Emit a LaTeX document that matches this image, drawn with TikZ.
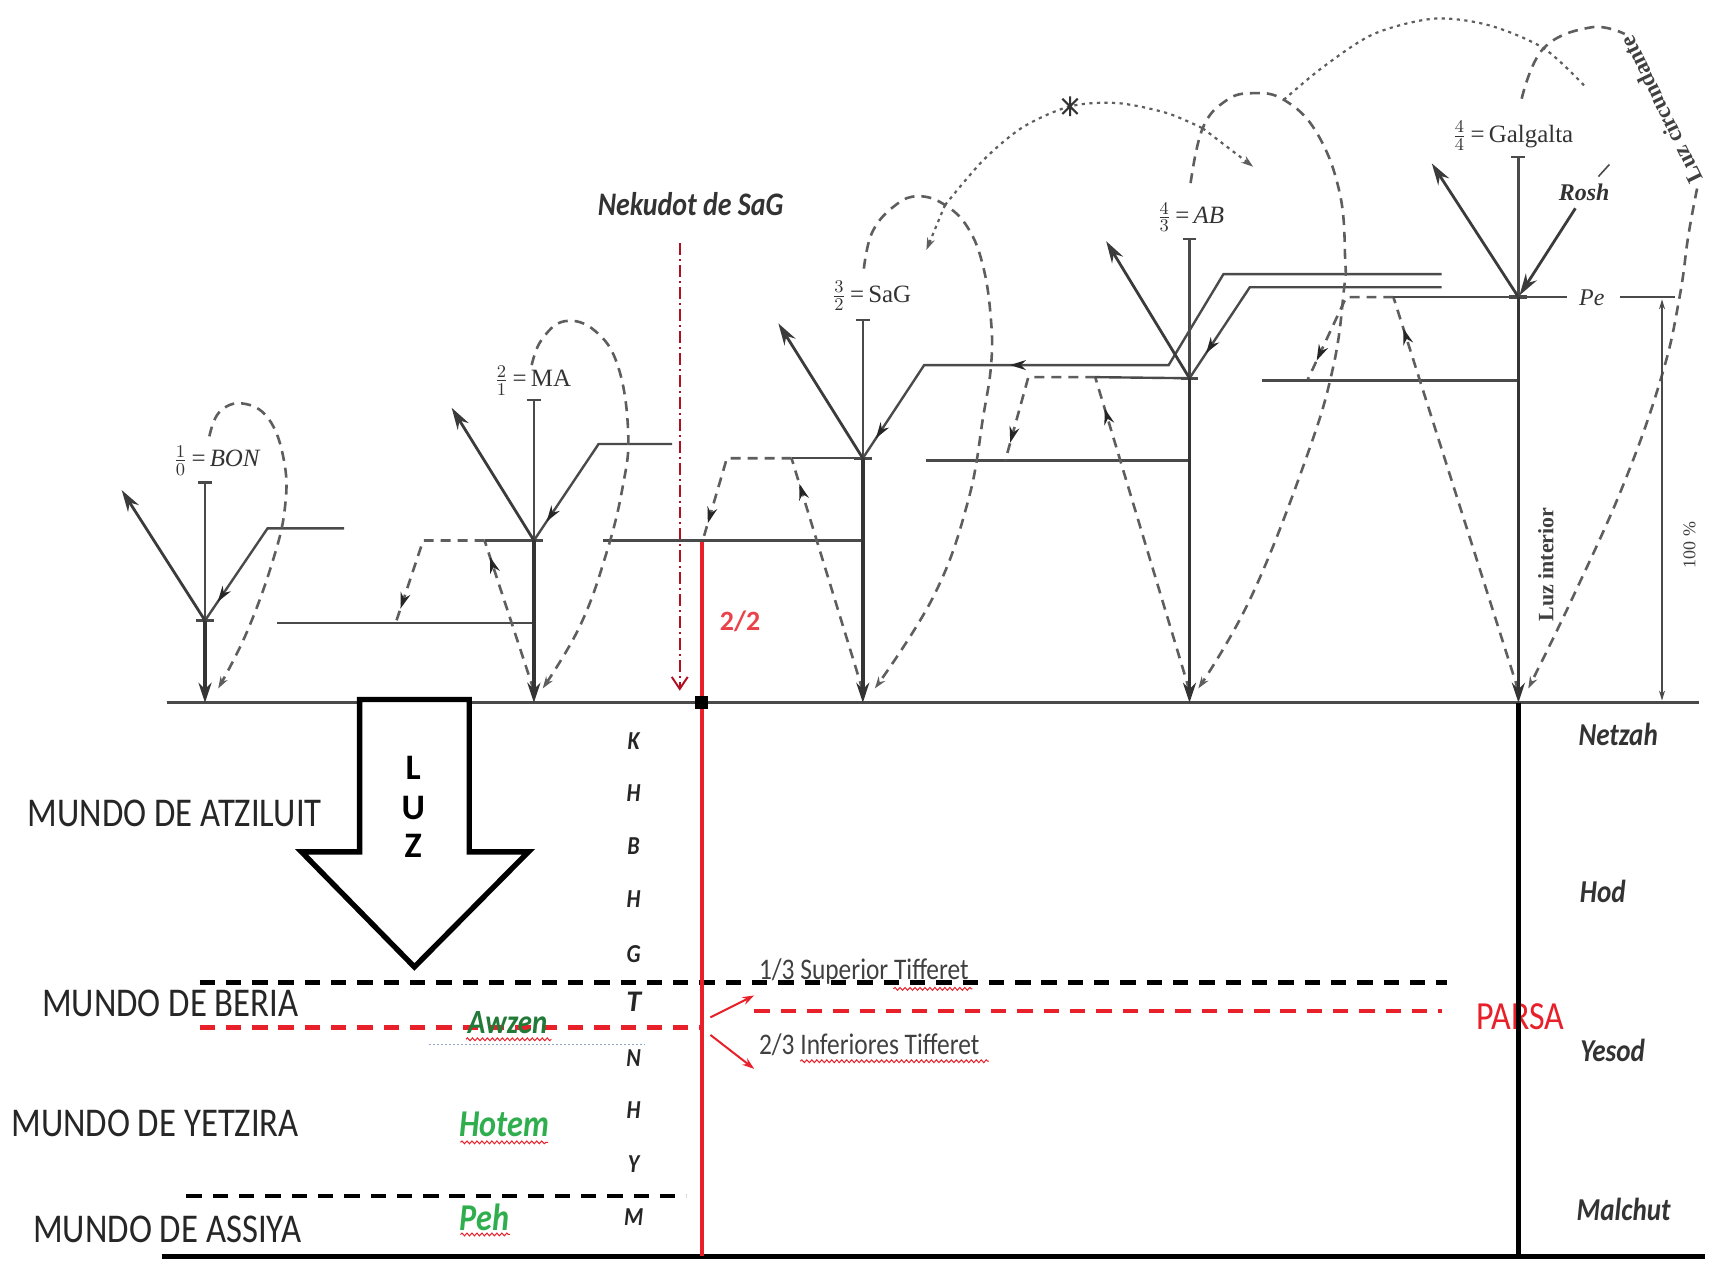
\documentclass[tikz,border=0pt]{standalone}
\usepackage{fontspec}
\setmainfont{Liberation Serif}
\newfontfamily\carl{Carlito}
\newfontfamily\carlc[FakeStretch=0.85]{Carlito}
\usetikzlibrary{arrows.meta,decorations.markings,decorations.pathmorphing}
\definecolor{lg}{HTML}{4A4A4A}
\definecolor{dl}{HTML}{5E5E5E}
\definecolor{rd}{HTML}{E8202A}
\definecolor{dr}{HTML}{B01020}
\definecolor{gr}{HTML}{2FAE4E}
\definecolor{bl}{HTML}{8FA8C8}
\tikzset{
  thinl/.style={draw=lg,line width=1.2pt},
  colarr/.style={draw=lg!70!black,line width=1.9pt,-{Stealth[length=10pt,width=6.5pt]}},
  uparr/.style={draw=lg!80!black,line width=1.4pt,-{Stealth[length=11pt,width=6.5pt]}},
  lp/.style={draw=dl,line width=1.3pt,dash pattern=on 5pt off 3.5pt},
  dt/.style={draw=dl,line width=1.1pt,dash pattern=on 1.6pt off 2.2pt},
  midarr/.style={postaction={decorate,decoration={markings,mark=at position #1 with {\arrow[black!85]{Stealth[length=8pt,width=5pt]}}}}},
  bdash/.style={draw=black,line width=2.3pt,dash pattern=on 7.7pt off 5.5pt},
  rdash/.style={draw=rd,line width=2.3pt,dash pattern=on 7.7pt off 5.5pt},
  wavy/.style={draw=rd,line width=0.5pt,decorate,decoration={snake,amplitude=0.7pt,segment length=2.5pt}},
  lab/.style={text=black!80,font=\fontsize{12.5}{13}\selectfont,inner sep=0pt},
  mundo/.style={font=\carlc\fontsize{20.5}{21}\selectfont,text=black!85,inner sep=0pt,anchor=west},
  sef/.style={font=\carlc\bfseries\itshape\fontsize{13}{14}\selectfont,text=black!85,inner sep=0pt},
  right lab/.style={font=\carlc\bfseries\itshape\fontsize{16}{17}\selectfont,text=black!80,inner sep=0pt},
  grn/.style={font=\carlc\bfseries\itshape\fontsize{19}{20}\selectfont,text=gr,inner sep=0pt},
  tif/.style={font=\carlc\fontsize{15}{16}\selectfont,text=black!75,inner sep=0pt,anchor=west},
  endarr/.style={-{Stealth[length=6pt,width=4pt]}}
}
\begin{document}
\begin{tikzpicture}[x=0.55pt,y=-0.55pt]
\useasboundingbox (0,0) rectangle (1568,1152);
\fill[white] (0,0) rectangle (1568,1152);

% ---------- key coordinates ----------
\coordinate (v1) at (187,566);  \coordinate (b1) at (187,641); \coordinate (t1) at (187,440);
\coordinate (v2) at (487,493);  \coordinate (b2) at (487,641); \coordinate (t2) at (487,365);
\coordinate (v3) at (787,418);  \coordinate (b3) at (787,641); \coordinate (t3) at (787,292);
\coordinate (v4) at (1085,345); \coordinate (b4) at (1085,641); \coordinate (t4) at (1085,218);
\coordinate (v5) at (1385,271); \coordinate (b5) at (1385,641); \coordinate (t5) at (1385,143);
\coordinate (g5) at (1385,1146);

% ---------- baseline ----------
\draw[lg,line width=1.4pt] (152,641) -- (1550,641);

% ---------- lower section lines ----------
\draw[bdash] (182,896) -- (1320,896);
\draw[rdash] (182,937) -- (640,937);
\draw[rdash] (688,922) -- (1315,922);
\draw[bdash] (170,1091) -- (626,1091);
\draw[bl,line width=0.7pt,dash pattern=on 1pt off 1pt] (391,953) -- (588,953);

% ---------- labels lower ----------
\node[mundo] (m1) at (25,742) {MUNDO DE ATZILUIT};
\node[mundo] (m2) at (38,915) {MUNDO DE BERIA};
\node[mundo] (m3) at (10,1025) {MUNDO DE YETZIRA};
\node[mundo] (m4) at (30,1121) {MUNDO DE ASSIYA};

\node[sef] (s1) at (578,676) {K};
\node[sef] (s2) at (578,723) {H};
\node[sef] (s3) at (578,772) {B};
\node[sef] (s4) at (578,820) {H};
\node[sef] (s5) at (578,870) {G};
\node[sef,font=\carl\bfseries\itshape\fontsize{15}{16}\selectfont] (s6) at (578,914) {T};
\node[sef] (s7) at (578,965) {N};
\node[sef] (s8) at (578,1013) {H};
\node[sef] (s9) at (578,1062) {Y};
\node[sef] (s10) at (578,1110) {M};

\node[right lab] (n1) at (1476,670) {Netzah};
\node[right lab] (n2) at (1462,813) {Hod};
\node[right lab] (n3) at (1471,958) {Yesod};
\node[right lab] (n4) at (1481,1103) {Malchut};

\node[tif] (sup) at (692,886) {1/3 Superior Tifferet};
\node[tif] (inf) at (692,953) {2/3 Inferiores Tifferet};
\draw[wavy] (815,902) -- (887,902);
\draw[wavy] (730,968) -- (902,968);

\node[font=\carlc\fontsize{20}{21}\selectfont,text=rd,inner sep=0pt] (parsa) at (1387,927) {PARSA};

\node[grn,font=\carlc\bfseries\itshape\fontsize{17}{18}\selectfont,text=gr!70!black] (awz) at (463,933) {Awzen};
\draw[wavy] (425,948) -- (503,948);
\node[grn] (hot) at (460,1026) {Hotem};
\draw[wavy] (420,1042) -- (500,1042);
\node[grn] (peh) at (442,1110) {Peh};
\draw[wavy] (420,1126) -- (465,1126);

% red arrows at parsa
\coordinate (ra) at (648,928);
\coordinate (rb) at (648,944);
\coordinate (ru) at (688,908);
\coordinate (rdn) at (688,975);
\draw[rd,line width=1pt,endarr] (ra) -- (ru);
\draw[rd,line width=1pt,endarr] (rb) -- (rdn);

% LUZ arrow
\draw[line width=2.7pt,black,fill=white,line join=miter] (328,638) -- (428,638) -- (428,777) -- (482,777) -- (378,882) -- (275,777) -- (328,777) -- cycle;
\node[font=\carl\bfseries\fontsize{18}{19}\selectfont,inner sep=0pt] (L) at (377,700) {L};
\node[font=\carl\bfseries\fontsize{18}{19}\selectfont,inner sep=0pt] (U) at (377,737) {U};
\node[font=\carl\bfseries\fontsize{18}{19}\selectfont,inner sep=0pt] (Z) at (377,772) {Z};

% bottom line
\draw[black,line width=2.4pt] (148,1146) -- (1555,1146);

% Galgalta column below baseline
\draw[black,line width=2.2pt] (b5) -- (g5);

% ---------- red Nekudot ----------
\node[font=\carlc\bfseries\itshape\fontsize{16.5}{17}\selectfont,text=black!80,inner sep=0pt] (nek) at (630,186) {Nekudot de SaG};
\coordinate (nk1) at (620,222);
\coordinate (nk2) at (620,630);
\draw[dr,line width=1pt,dash pattern=on 6pt off 2pt on 1pt off 2pt,-{Straight Barb[length=6pt,width=8pt]}] (nk1) -- (nk2);
\coordinate (rtop) at (640,493);
\coordinate (rbot) at (640,1146);
\draw[rd,line width=2pt] (rtop) -- (rbot);
\fill[black] (634,635) rectangle (646,647);
\node[font=\carl\bfseries\fontsize{14}{15}\selectfont,text=rd!85,inner sep=0pt] (tt) at (675,567) {2/2};

% ---------- lower-left horizontals ----------
\draw[thinl] (253,568) -- (487,568);
\draw[thinl] (550,493) -- (787,493);
\draw[thinl] (845,420) -- (1085,420);
\draw[thinl] (1151,347) -- (1385,347);

% ---------- right-side lines ----------
\draw[thinl,midarr=0.88] (314,482) -- (244,482) -- (v1);
\draw[thinl,midarr=0.88] (613,405) -- (546,405) -- (v2);
\draw[thinl,midarr=0.71,midarr=0.965] (1315,250) -- (1116,250) -- (1066,333) -- (843,333) -- (v3);
\draw[thinl,midarr=0.9] (1315,262) -- (1140,262) -- (v4);

% ---------- trapezoids ----------
\draw[lp,midarr=0.9] (442,493) -- (386,493) -- (361,568);
\draw[lp,midarr=0.89] (487,630) -- (442,493);
\draw[thinl] (442,493) -- (v2);

\draw[lp,midarr=0.88] (722,418) -- (663,418) -- (641,493);
\draw[lp,midarr=0.89] (787,630) -- (722,418);
\draw[thinl] (722,418) -- (v3);

\draw[lp,midarr=0.88] (999,344) -- (938,344) -- (917,420);
\draw[lp,midarr=0.9] (1085,630) -- (999,344);
\draw[thinl] (999,344) -- (v4);

\draw[lp,midarr=0.85] (1271,271) -- (1228,271) -- (1193,346);
\draw[lp,midarr=0.92] (1385,630) -- (1271,271);

% Pe line
\draw[thinl] (1271,271) -- (1429,271);
\draw[thinl] (1478,271) -- (1528,271);
\node[lab,font=\itshape\fontsize{12}{13}\selectfont] (pe) at (1452,272) {Pe};

% ---------- columns ----------
\foreach \i in {1,...,5}{
  \draw[thinl] (t\i) -- (v\i);
  \draw[thinl] ([xshift=-3.5pt]t\i) -- ([xshift=3.5pt]t\i);
  \draw[thinl,line width=1.7pt] ([xshift=-4.5pt]v\i) -- ([xshift=4.5pt]v\i);
  \draw[colarr] (v\i) -- (b\i);
}

% up-left arrows
\coordinate (u1) at (111,447);
\coordinate (u2) at (412,372);
\coordinate (u3) at (710,295);
\coordinate (u4) at (1009,220);
\coordinate (u5) at (1306,149);
\foreach \i in {1,...,5}{ \draw[uparr] (v\i) -- (u\i); }

% Rosh arrow
\coordinate (rosh) at (1437,190);
\draw[uparr,shorten >=1pt] (rosh) -- (v5);
\node[lab,font=\bfseries\itshape\fontsize{12}{13}\selectfont] (roshl) at (1445,175) {Rosh};
\draw[lg,line width=0.8pt] (1458,161) -- (1468,150);

% column labels
\node[lab] (l1) at (198,420) {$\frac{1}{0}$\,=\,\textit{BON}};
\node[lab] (l2) at (486,347) {$\frac{2}{1}$\,=\,MA};
\node[lab] (l3) at (795,270) {$\frac{3}{2}$\,=\,SaG};
\node[lab] (l4) at (1086,198) {$\frac{4}{3}$\,=\,\textit{AB}};
\node[lab] (l5) at (1380,124) {$\frac{4}{4}$\,=\,Galgalta};

% ---------- loops ----------
\draw[lp,endarr] plot[smooth,tension=0.7] coordinates {(191,398) (200,376) (221,368) (245,382) (259,420) (260,462) (249,511) (225,577) (199,628)};
\draw[lp,endarr] plot[smooth,tension=0.7] coordinates {(485,333) (494,310) (515,293) (543,302) (564,335) (573,395) (568,444) (553,505) (529,571) (495,628)};
\draw[lp,endarr] plot[smooth,tension=0.7] coordinates {(788,245) (796,211) (817,187) (838,179) (862,187) (883,208) (897,244) (904,293) (904,333) (897,379) (883,457) (852,543) (798,628)};
\draw[lp,endarr] plot[smooth,tension=0.7] coordinates {(1086,167) (1097,117) (1118,92) (1142,85) (1171,91) (1201,121) (1222,176) (1227,237) (1226,263) (1216,335) (1191,419) (1141,545) (1093,628)};
\draw[lp] plot[smooth,tension=0.7] coordinates {(1388,90) (1408,44) (1451,25) (1482,31)};
\draw[lp,endarr] plot[smooth,tension=0.7] coordinates {(1548,172) (1540,215) (1532,271) (1516,342) (1482,439) (1435,544) (1394,628)};
\node[font=\bfseries\fontsize{11.5}{12}\selectfont,text=black!75,inner sep=0pt,rotate=116] (circ) at (1515,100) {Luz circundante};

% ---------- dotted arcs ----------
\draw[dt] plot[smooth] coordinates {(862,187) (897,146) (933,116) (976,97) (1019,94) (1064,103) (1097,117)};
\draw[dt,endarr] (862,187) -- (845,228);
\draw[dt,endarr] (1097,117) -- (1143,152);
\draw[dt] plot[smooth] coordinates {(1171,91) (1207,61) (1253,31) (1308,17) (1358,23) (1408,44) (1445,78)};
\draw[black!80,line width=1pt] (969,90) -- (983,104) (969,104) -- (983,90) (976,88) -- (976,106);

% ---------- vertical texts ----------
\node[font=\bfseries\fontsize{11}{12}\selectfont,text=black!75,inner sep=0pt,rotate=90] (li) at (1410,515) {Luz interior};
\coordinate (d1) at (1516,273);
\coordinate (d2) at (1516,639);
\draw[lg,line width=0.8pt,{Stealth[length=5pt,width=3pt]}-{Stealth[length=5pt,width=3pt]}] (d1) -- (d2);
\node[font=\fontsize{9}{10}\selectfont,text=black!75,inner sep=0pt,rotate=90] (pc) at (1541,497) {100 \%};

% Galgalta column drawn over PARSA
\draw[black,line width=2.2pt] (1385,890) -- (1385,960);
\end{tikzpicture}
\end{document}
